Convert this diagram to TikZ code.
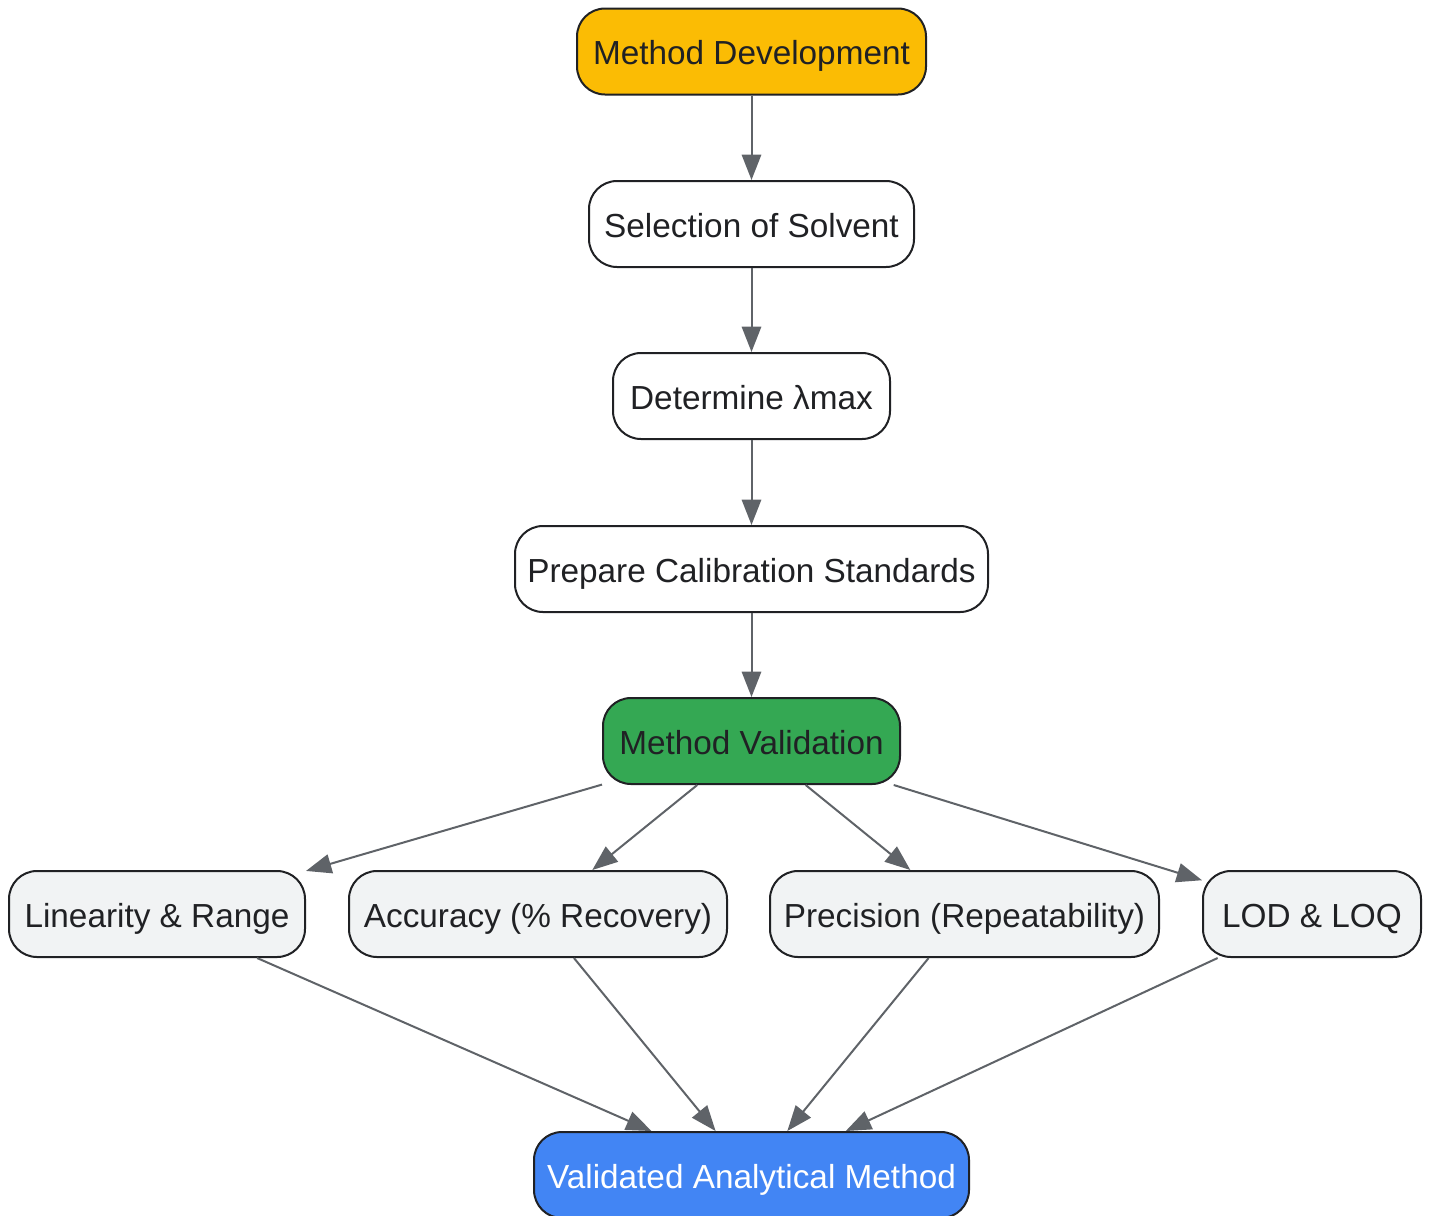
\documentclass[tikz,border=0pt]{standalone}
\usepackage{fontspec}
\setmainfont{Liberation Sans}
\usetikzlibrary{arrows.meta}
\definecolor{orangefill}{HTML}{FBBC04}
\definecolor{greenfill}{HTML}{34A853}
\definecolor{bluefill}{HTML}{4285F4}
\definecolor{grayfill}{HTML}{F1F3F4}
\definecolor{edgecol}{HTML}{5F6368}
\definecolor{bordercol}{HTML}{202124}
\tikzset{
  box/.style={draw=bordercol, line width=1.5pt, rounded corners=21pt,
    minimum height=64.5pt, inner sep=0pt, text=bordercol,
    text height=20pt, text depth=0pt,
    font=\fontsize{25pt}{29pt}\selectfont},
  conn/.style={draw=edgecol, line width=1.5pt,
    -{Triangle[length=19pt,width=14.5pt]}},
}
\begin{document}
\begin{tikzpicture}[x=0.75pt,y=-0.75pt]
\useasboundingbox (0,0) rectangle (1431,1215);
\node[box, fill=orangefill, minimum width=261.75pt] (md) at (751.5,51.5) {Method Development};
\node[box, fill=white, minimum width=243.75pt] (sel) at (751.5,224) {Selection of Solvent};
\node[box, fill=white, minimum width=207.75pt] (det) at (751.5,396) {Determine λmax};
\node[box, fill=white, minimum width=354.75pt] (prep) at (751.5,569) {Prepare Calibration Standards};
\node[box, fill=greenfill, minimum width=222.75pt] (mv) at (751.5,741) {Method Validation};
\node[box, fill=grayfill, minimum width=222pt] (lin) at (157,914) {Linearity \& Range};
\node[box, fill=grayfill, minimum width=283.5pt] (acc) at (538,914) {Accuracy (\% Recovery)};
\node[box, fill=grayfill, minimum width=291.75pt] (prec) at (964.5,914) {Precision (Repeatability)};
\node[box, fill=grayfill, minimum width=163.5pt] (lod) at (1312,914) {LOD \& LOQ};
\node[box, fill=bluefill, text=white, minimum width=326.25pt] (val) at (751.5,1175) {Validated Analytical Method};
\draw[conn] (md) -- (sel);
\draw[conn] (sel) -- (det);
\draw[conn] (det) -- (prep);
\draw[conn] (prep) -- (mv);
\draw[conn] (mv) -- (lin);
\draw[conn] (mv) -- (acc);
\draw[conn] (mv) -- (prec);
\draw[conn] (mv) -- (lod);
\draw[conn] (lin) -- (val);
\draw[conn] (acc) -- (val);
\draw[conn] (prec) -- (val);
\draw[conn] (lod) -- (val);
\end{tikzpicture}
\end{document}
